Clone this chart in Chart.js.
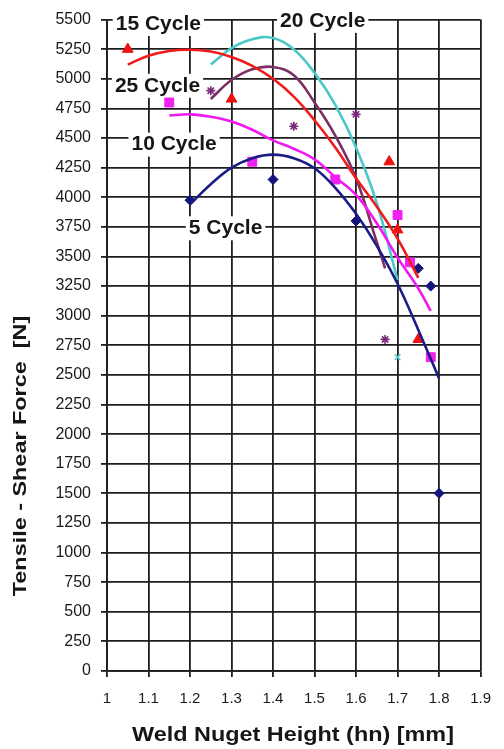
<!DOCTYPE html>
<html>
<head>
<meta charset="utf-8">
<script src="https://cdn.jsdelivr.net/npm/chart.js@4/dist/chart.umd.min.js"></script>
<style>
  body { margin: 0; background: #fff; }
  #wrap { width: 504px; height: 749px; }
</style>
</head>
<body>
<div id="wrap"><canvas id="forceChart" width="504" height="749"></canvas></div>
<script>
// measured samples, one list per weld time
const cycle5X = [1.2, 1.4, 1.6, 1.75, 1.78, 1.8];
const cycle5Y = [3975, 4150, 3800, 3400, 3250, 1500];
const cycle10X = [1.15, 1.35, 1.55, 1.7, 1.73, 1.78];
const cycle10Y = [4800, 4300, 4150, 3850, 3450, 2650];
const cycle15X = [1.05, 1.3, 1.68, 1.7, 1.75];
const cycle15Y = [5250, 4830, 4300, 3725, 2800];
const cycle20X = [1.7];
const cycle20Y = [2650];
const cycle25X = [1.25, 1.45, 1.6, 1.67];
const cycle25Y = [4900, 4600, 4700, 2800];

// trend curves
const trend5X = [1.2, 1.25, 1.3, 1.35, 1.4, 1.45, 1.5, 1.55, 1.6, 1.65, 1.7, 1.75, 1.8];
const trend5Y = [3940, 4110, 4250, 4330, 4360, 4330, 4245, 4080, 3860, 3590, 3270, 2880, 2470];
const trend10X = [1.15, 1.2, 1.25, 1.3, 1.35, 1.4, 1.45, 1.5, 1.55, 1.6, 1.65, 1.7, 1.75, 1.78];
const trend10Y = [4690, 4700, 4680, 4640, 4570, 4480, 4410, 4320, 4170, 4020, 3780, 3490, 3230, 3040];
const trend15X = [1.05, 1.1, 1.15, 1.2, 1.25, 1.3, 1.35, 1.4, 1.45, 1.5, 1.55, 1.6, 1.65, 1.7, 1.75];
const trend15Y = [5120, 5195, 5235, 5245, 5230, 5185, 5110, 5000, 4850, 4650, 4420, 4160, 3920, 3650, 3320];
const trend20X = [1.25, 1.3, 1.35, 1.4, 1.45, 1.5, 1.55, 1.6, 1.65, 1.7];
const trend20Y = [5120, 5260, 5335, 5345, 5250, 5050, 4780, 4420, 3950, 3300];
const trend25X = [1.25, 1.3, 1.35, 1.4, 1.45, 1.5, 1.55, 1.6, 1.65, 1.67];
const trend25Y = [4830, 4990, 5080, 5100, 5030, 4800, 4520, 4160, 3620, 3400];

// series names and where they sit (data units: left edge, vertical middle)
const cycleNames = ["15 Cycle", "20 Cycle", "25 Cycle", "10 Cycle", "5 Cycle"];
const nameAtX = [1.021, 1.417, 1.019, 1.059, 1.197];
const nameAtY = [5463, 5489, 4941, 4445, 3738];

const xMin = 1, xMax = 1.9, xStep = 0.1;
const yMin = 0, yMax = 5500, yStep = 250;

const FONT = '"Liberation Sans", Arial, sans-serif';

function pairs(xs, ys) {
  return xs.map((x, i) => ({ x: x, y: ys[i] }));
}

function trend(xs, ys, color) {
  return {
    data: pairs(xs, ys),
    showLine: true,
    borderColor: color,
    borderWidth: 2.6,
    pointRadius: 0,
    tension: 0.4,
  };
}

function marks(xs, ys, color, style, radius) {
  return {
    data: pairs(xs, ys),
    showLine: false,
    pointStyle: style,
    pointRadius: radius,
    backgroundColor: color,
    borderColor: color,
    borderWidth: style === "star" || style === "crossRot" ? 1.6 : 1,
  };
}

// white-boxed series names under the marks, rotated / stretched axis titles on top
const annotate = {
  id: "annotate",
  beforeDatasetsDraw(chart) {
    const { ctx, scales } = chart;
    ctx.save();
    ctx.font = "bold 21px " + FONT;
    ctx.textBaseline = "middle";
    cycleNames.forEach((name, i) => {
      const px = scales.x.getPixelForValue(nameAtX[i]);
      const py = scales.y.getPixelForValue(nameAtY[i]);
      const w = ctx.measureText(name).width;
      ctx.fillStyle = "#fff";
      ctx.fillRect(px - 3, py - 12, w + 6, 24);
      ctx.fillStyle = "#161616";
      ctx.fillText(name, px, py);
    });
    ctx.restore();
  },
  afterDraw(chart) {
    const { ctx } = chart;
    ctx.save();
    ctx.fillStyle = "#161616";
    ctx.textAlign = "center";
    ctx.textBaseline = "middle";

    ctx.save();
    ctx.translate(21, 456);
    ctx.rotate(-Math.PI / 2);
    ctx.scale(1.3, 1);
    ctx.font = "bold 18px " + FONT;
    ctx.fillText("Tensile - Shear Force  [N]", 0, 0);
    ctx.restore();

    ctx.save();
    ctx.translate(293, 735);
    ctx.scale(1.17, 1);
    ctx.font = "bold 20px " + FONT;
    ctx.fillText("Weld Nuget Height (hn) [mm]", 0, 0);
    ctx.restore();

    ctx.restore();
  },
};

const gridColor = "#1e1e1e";

new Chart(document.getElementById("forceChart"), {
  type: "scatter",
  data: {
    datasets: [
      trend(trend5X, trend5Y, "#1c1c86"),
      trend(trend10X, trend10Y, "#f019f0"),
      trend(trend15X, trend15Y, "#f01c1c"),
      trend(trend20X, trend20Y, "#4cc8c8"),
      trend(trend25X, trend25Y, "#7c2f62"),
      marks(cycle5X, cycle5Y, "#14147a", "rectRot", 5),
      marks(cycle10X, cycle10Y, "#f020f0", "rect", 6.3),
      marks(cycle15X, cycle15Y, "#ee1111", "triangle", 6.2),
      marks(cycle20X, cycle20Y, "#5ccccc", "crossRot", 4),
      marks(cycle25X, cycle25Y, "#7a2a7a", "star", 4.5),
    ],
  },
  options: {
    responsive: false,
    animation: false,
    layout: { padding: { top: 17, right: 13, left: 0, bottom: 0 } },
    plugins: {
      legend: { display: false },
      tooltip: { enabled: false },
    },
    scales: {
      x: {
        type: "linear",
        min: xMin,
        max: xMax,
        ticks: {
          stepSize: xStep,
          padding: 13,
          color: "#1a1a1a",
          font: { family: FONT, size: 15 },
          callback: (v) => String(Math.round(v * 10) / 10),
        },
        grid: { color: gridColor, lineWidth: 1.8, tickLength: 6 },
        border: { color: gridColor, width: 1.8 },
        afterFit: (scale) => { scale.height = 78; },
      },
      y: {
        min: yMin,
        max: yMax,
        ticks: {
          stepSize: yStep,
          padding: 10,
          color: "#1a1a1a",
          font: { family: FONT, size: 16 },
          callback: (v) => String(v),
        },
        grid: { color: gridColor, lineWidth: 1.8, tickLength: 6 },
        border: { color: gridColor, width: 1.8 },
        afterFit: (scale) => { scale.width = 107; },
      },
    },
  },
  plugins: [annotate],
});
</script>
</body>
</html>
